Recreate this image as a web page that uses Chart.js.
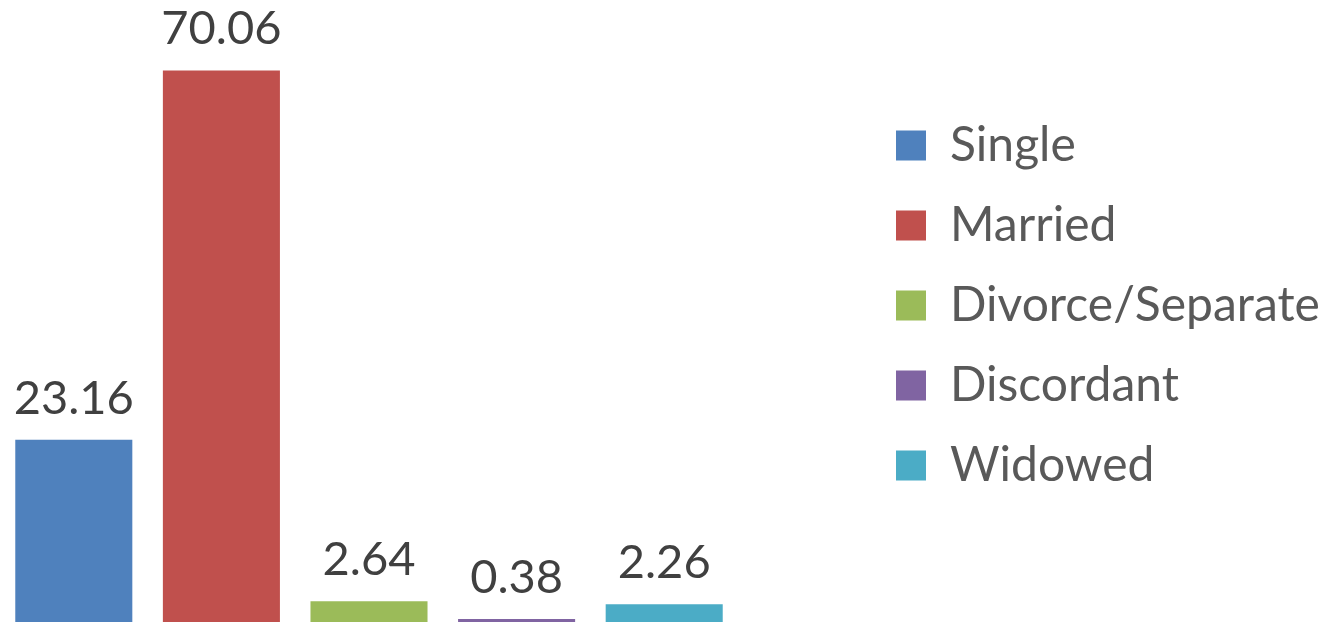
<!DOCTYPE html>
<html>
<head>
<meta charset="utf-8">
<script src="https://cdn.jsdelivr.net/npm/chart.js@4.4.1/dist/chart.umd.min.js"></script>
<style>
  html, body { margin: 0; padding: 0; background: #ffffff; }
  #wrap { width: 1331px; height: 623px; position: relative; }
</style>
</head>
<body>
<div id="wrap"><canvas id="c"></canvas></div>
<script>
const categories = ['Single', 'Married', 'Divorce/Separate', 'Discordant', 'Widowed'];
const values = [23.16, 70.06, 2.64, 0.38, 2.26];
const colors = ['#4F81BD', '#C0504D', '#9BBB59', '#8064A2', '#4BACC6'];

const FONT = 'Lato';
const LEGEND_PAD = 32;

const legendPlacer = {
  id: 'legendPlacer',
  beforeLayout(chart) {
    const lg = chart.legend;
    if (lg && !lg._patched) {
      const orig = lg.fit;
      lg.fit = function () { orig.call(this); this.width = 593; };
      lg._patched = true;
    }
  },
  afterLayout(chart) {
    const lg = chart.legend;
    lg.left = 896 - LEGEND_PAD;
    lg.top -= 5.5;
    lg.bottom -= 5.5;
  }
};

const valueLabels = {
  id: 'valueLabels',
  afterDatasetsDraw(chart) {
    const ctx = chart.ctx;
    const meta = chart.getDatasetMeta(0);
    ctx.save();
    ctx.font = '47px ' + FONT;
    ctx.fillStyle = '#404040';
    ctx.textAlign = 'center';
    ctx.textBaseline = 'alphabetic';
    meta.data.forEach((bar, i) => {
      ctx.fillText(values[i].toFixed(2), bar.x, bar.y - 26);
    });
    ctx.restore();
  }
};

new Chart(document.getElementById('c'), {
  type: 'bar',
  data: {
    labels: categories,
    datasets: [{
      label: 'Value',
      data: values,
      backgroundColor: colors,
      borderWidth: 0,
      barPercentage: 0.793,
      categoryPercentage: 1
    }]
  },
  options: {
    responsive: true,
    maintainAspectRatio: false,
    animation: false,
    layout: { padding: { left: 0, right: 0, top: 0, bottom: 1 } },
    scales: {
      x: { display: false },
      y: { display: false, min: 0, max: 79 }
    },
    plugins: {
      tooltip: { enabled: false },
      legend: {
        position: 'right',
        labels: {
          boxWidth: 30,
          boxHeight: 30,
          padding: LEGEND_PAD,
          color: '#595959',
          font: { family: FONT, size: 48 },
          generateLabels() {
            return categories.map((c, i) => ({
              text: c,
              fillStyle: colors[i],
              strokeStyle: colors[i],
              fontColor: '#595959',
              lineWidth: 0,
              hidden: false,
              index: i
            }));
          }
        }
      }
    }
  },
  plugins: [legendPlacer, valueLabels]
});
</script>
</body>
</html>
